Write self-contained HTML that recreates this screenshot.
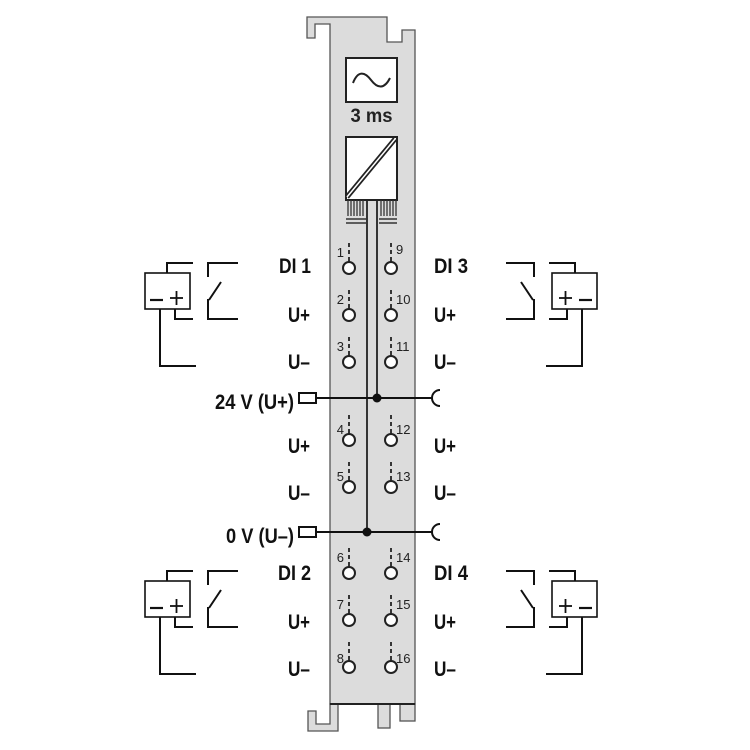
<!DOCTYPE html>
<html><head><meta charset="utf-8"><style>html,body{margin:0;padding:0;background:#fff}svg{display:block}</style></head>
<body>
<svg width="750" height="750" viewBox="0 0 750 750" xmlns="http://www.w3.org/2000/svg">
<defs>
<g id="term">
  <line x1="0" y1="-25" x2="0" y2="-21" stroke="#222" stroke-width="1.8"/>
  <line x1="0" y1="-18" x2="0" y2="-14" stroke="#222" stroke-width="1.8"/>
  <line x1="0" y1="-11" x2="0" y2="-5" stroke="#222" stroke-width="1.8"/>
  <circle cx="0" cy="0" r="6" fill="#fff" stroke="#222" stroke-width="2"/>
</g>
<g id="sensorL" fill="none" stroke="#111" stroke-width="2">
  <rect x="145" y="273" width="45" height="36" stroke-width="1.6"/>
  <polyline points="167,273 167,263 193,263"/>
  <polyline points="175,309 175,319 193,319"/>
  <polyline points="160,309 160,366 196,366"/>
  <polyline points="238,263 208,263 208,277"/>
  <line x1="221" y1="282" x2="209" y2="300"/>
  <polyline points="208,299 208,319 238,319"/>
  <line x1="150" y1="300" x2="163" y2="300" stroke-width="2.2"/>
  <line x1="170" y1="298" x2="183" y2="298" stroke-width="1.8"/>
  <line x1="176.5" y1="291" x2="176.5" y2="305" stroke-width="1.8"/>
</g>
<g id="sensorR" fill="none" stroke="#111" stroke-width="2">
  <rect x="552" y="273" width="45" height="36" stroke-width="1.6"/>
  <polyline points="575,273 575,263 549,263"/>
  <polyline points="567,309 567,319 549,319"/>
  <polyline points="582,309 582,366 546,366"/>
  <polyline points="506,263 534,263 534,277"/>
  <line x1="521" y1="282" x2="533" y2="300"/>
  <polyline points="534,299 534,319 506,319"/>
  <line x1="579" y1="300" x2="592" y2="300" stroke-width="2.2"/>
  <line x1="559" y1="298" x2="572" y2="298" stroke-width="1.8"/>
  <line x1="565.5" y1="291" x2="565.5" y2="305" stroke-width="1.8"/>
</g>
</defs>

<!-- module body -->
<path d="M307,17 H387 V42 H402 V30 H415 V704 H330 V24 H315 V38 H307 Z" fill="#dcdcdc" stroke="#555" stroke-width="1.3"/>
<!-- bottom tabs -->
<path d="M330,704 H338 V731 H308 V711 H316 V724 H330 Z" fill="#dcdcdc" stroke="#555" stroke-width="1.3"/>
<rect x="378" y="704" width="12" height="24" fill="#dcdcdc" stroke="#555" stroke-width="1.3"/>
<rect x="400" y="704" width="15" height="17" fill="#dcdcdc" stroke="#555" stroke-width="1.3"/>
<line x1="330" y1="704" x2="415" y2="704" stroke="#222" stroke-width="2"/>

<!-- sine box -->
<rect x="346" y="58" width="51" height="44" fill="#fff" stroke="#222" stroke-width="2"/>
<path d="M353,83 C358,70 365,72 371,80 C377,88 384,90 390,78" fill="none" stroke="#222" stroke-width="2"/>
<text x="371.5" y="122" text-anchor="middle" font-family="Liberation Sans, sans-serif" font-size="19" font-weight="bold" fill="#222" textLength="42" lengthAdjust="spacingAndGlyphs">3 ms</text>
<!-- converter -->
<rect x="346" y="137" width="51" height="63" fill="#fff" stroke="#222" stroke-width="2"/>
<line x1="347" y1="197" x2="395" y2="139" stroke="#222" stroke-width="5"/>
<line x1="347" y1="197" x2="395" y2="139" stroke="#fff" stroke-width="1.5"/>
<!-- hatching -->
<g stroke="#333" stroke-width="1.3">
<line x1="348" y1="200" x2="348" y2="216"/><line x1="351" y1="200" x2="351" y2="216"/><line x1="354" y1="200" x2="354" y2="216"/><line x1="357" y1="200" x2="357" y2="216"/><line x1="360" y1="200" x2="360" y2="216"/><line x1="363" y1="200" x2="363" y2="216"/>
<line x1="381" y1="200" x2="381" y2="216"/><line x1="384" y1="200" x2="384" y2="216"/><line x1="387" y1="200" x2="387" y2="216"/><line x1="390" y1="200" x2="390" y2="216"/><line x1="393" y1="200" x2="393" y2="216"/><line x1="396" y1="200" x2="396" y2="216"/>
</g>
<g stroke="#333" stroke-width="1.5">
<line x1="346" y1="219" x2="366" y2="219"/><line x1="346" y1="223" x2="366" y2="223"/>
<line x1="379" y1="219" x2="397" y2="219"/><line x1="379" y1="223" x2="397" y2="223"/>
</g>
<!-- vertical bus -->
<line x1="367" y1="200" x2="367" y2="532" stroke="#222" stroke-width="1.8"/>
<line x1="377" y1="200" x2="377" y2="398" stroke="#222" stroke-width="1.8"/>

<!-- 24V / 0V lines -->
<g stroke="#111" stroke-width="2" fill="none">
<rect x="299" y="393" width="17" height="10" fill="#fff"/>
<line x1="316" y1="398" x2="432" y2="398"/>
<path d="M440,390 A8,8 0 0 0 440,406"/>
<rect x="299" y="527" width="17" height="10" fill="#fff"/>
<line x1="316" y1="532" x2="432" y2="532"/>
<path d="M440,524 A8,8 0 0 0 440,540"/>
</g>
<circle cx="377" cy="398" r="4.5" fill="#111"/>
<circle cx="367" cy="532" r="4.5" fill="#111"/>

<!-- terminals -->
<g>
<use href="#term" x="349" y="268"/><use href="#term" x="391" y="268"/>
<use href="#term" x="349" y="315"/><use href="#term" x="391" y="315"/>
<use href="#term" x="349" y="362"/><use href="#term" x="391" y="362"/>
<use href="#term" x="349" y="440"/><use href="#term" x="391" y="440"/>
<use href="#term" x="349" y="487"/><use href="#term" x="391" y="487"/>
<use href="#term" x="349" y="573"/><use href="#term" x="391" y="573"/>
<use href="#term" x="349" y="620"/><use href="#term" x="391" y="620"/>
<use href="#term" x="349" y="667"/><use href="#term" x="391" y="667"/>
</g>
<g font-family="Liberation Sans, sans-serif" font-size="13" fill="#222">
<text x="344" y="257" text-anchor="end">1</text><text x="396" y="254">9</text>
<text x="344" y="304" text-anchor="end">2</text><text x="396" y="304">10</text>
<text x="344" y="351" text-anchor="end">3</text><text x="396" y="351">11</text>
<text x="344" y="434" text-anchor="end">4</text><text x="396" y="434">12</text>
<text x="344" y="481" text-anchor="end">5</text><text x="396" y="481">13</text>
<text x="344" y="562" text-anchor="end">6</text><text x="396" y="562">14</text>
<text x="344" y="609" text-anchor="end">7</text><text x="396" y="609">15</text>
<text x="344" y="663" text-anchor="end">8</text><text x="396" y="663">16</text>
</g>

<!-- labels -->
<g font-family="Liberation Sans, sans-serif" font-size="21" font-weight="bold" fill="#111">
<g text-anchor="end">
<text x="311" y="273" textLength="32" lengthAdjust="spacingAndGlyphs">DI 1</text>
<text x="310" y="322" textLength="22" lengthAdjust="spacingAndGlyphs">U+</text>
<text x="310" y="369" textLength="22" lengthAdjust="spacingAndGlyphs">U–</text>
<text x="294" y="409" textLength="79" lengthAdjust="spacingAndGlyphs">24 V (U+)</text>
<text x="310" y="453" textLength="22" lengthAdjust="spacingAndGlyphs">U+</text>
<text x="310" y="500" textLength="22" lengthAdjust="spacingAndGlyphs">U–</text>
<text x="294" y="543" textLength="68" lengthAdjust="spacingAndGlyphs">0 V (U–)</text>
<text x="311" y="580" textLength="33" lengthAdjust="spacingAndGlyphs">DI 2</text>
<text x="310" y="629" textLength="22" lengthAdjust="spacingAndGlyphs">U+</text>
<text x="310" y="676" textLength="22" lengthAdjust="spacingAndGlyphs">U–</text>
</g>
<text x="434" y="273" textLength="34" lengthAdjust="spacingAndGlyphs">DI 3</text>
<text x="434" y="322" textLength="22" lengthAdjust="spacingAndGlyphs">U+</text>
<text x="434" y="369" textLength="22" lengthAdjust="spacingAndGlyphs">U–</text>
<text x="434" y="453" textLength="22" lengthAdjust="spacingAndGlyphs">U+</text>
<text x="434" y="500" textLength="22" lengthAdjust="spacingAndGlyphs">U–</text>
<text x="434" y="580" textLength="34" lengthAdjust="spacingAndGlyphs">DI 4</text>
<text x="434" y="629" textLength="22" lengthAdjust="spacingAndGlyphs">U+</text>
<text x="434" y="676" textLength="22" lengthAdjust="spacingAndGlyphs">U–</text>
</g>

<!-- sensors -->
<use href="#sensorL"/>
<use href="#sensorR"/>
<use href="#sensorL" y="308"/>
<use href="#sensorR" y="308"/>
</svg>
</body></html>
